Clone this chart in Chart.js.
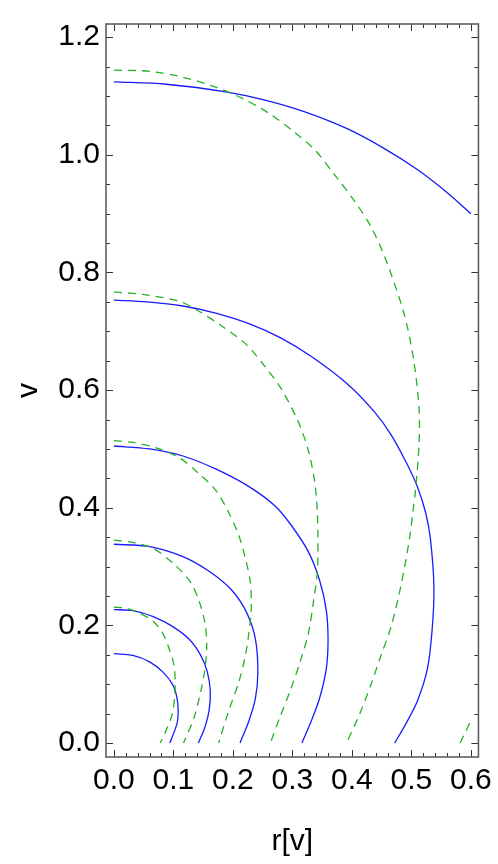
<!DOCTYPE html>
<html>
<head>
<meta charset="utf-8">
<script src="https://cdn.jsdelivr.net/npm/chart.js@4.4.0/dist/chart.umd.min.js"></script>
<style>
  html, body { margin: 0; padding: 0; background: #fff; }
  canvas { display: block; }
</style>
</head>
<body>
<canvas id="chart" width="498" height="864"></canvas>
<script>
'use strict';

// Data: [r, v] points
var solid1 = [[0, 0.152], [0.032, 0.149], [0.06, 0.138], [0.082, 0.121], [0.099, 0.099], [0.106, 0.077], [0.108, 0.055], [0.106, 0.033], [0.094, 0]];
var solid2 = [[0, 0.227], [0.032, 0.225], [0.066, 0.215], [0.099, 0.198], [0.127, 0.176], [0.146, 0.149], [0.157, 0.121], [0.162, 0.088], [0.160, 0.055], [0.153, 0.027], [0.142, 0]];
var solid3 = [[0, 0.338], [0.06, 0.334], [0.116, 0.317], [0.16, 0.292], [0.199, 0.259], [0.224, 0.220], [0.238, 0.176], [0.242, 0.121], [0.238, 0.077], [0.227, 0.038], [0.212, 0]];
var solid4 = [[0, 0.505], [0.06, 0.500], [0.116, 0.488], [0.171, 0.466], [0.227, 0.436], [0.271, 0.403], [0.299, 0.369], [0.327, 0.325], [0.346, 0.276], [0.357, 0.226], [0.360, 0.176], [0.357, 0.126], [0.346, 0.077], [0.332, 0.038], [0.316, 0]];
var solid5 = [[0, 0.753], [0.055, 0.750], [0.116, 0.743], [0.171, 0.731], [0.227, 0.713], [0.282, 0.688], [0.332, 0.657], [0.393, 0.610], [0.438, 0.563], [0.466, 0.524], [0.493, 0.474], [0.51, 0.436], [0.524, 0.392], [0.532, 0.348], [0.538, 0.265], [0.535, 0.193], [0.527, 0.126], [0.51, 0.071], [0.491, 0.033], [0.472, 0]];
var solid6 = [[0, 1.124], [0.088, 1.120], [0.188, 1.107], [0.254, 1.093], [0.321, 1.073], [0.393, 1.044], [0.454, 1.011], [0.51, 0.975], [0.56, 0.936], [0.6, 0.9]];

var dashed1 = [[0, 0.231], [0.021, 0.229], [0.043, 0.221], [0.066, 0.207], [0.082, 0.187], [0.093, 0.160], [0.101, 0.132], [0.103, 0.104], [0.102, 0.077], [0.098, 0.049], [0.088, 0.022], [0.078, 0]];
var dashed2 = [[0, 0.345], [0.032, 0.341], [0.066, 0.331], [0.099, 0.306], [0.127, 0.276], [0.143, 0.242], [0.153, 0.204], [0.156, 0.165], [0.153, 0.126], [0.146, 0.088], [0.135, 0.044], [0.117, 0]];
var dashed3 = [[0, 0.514], [0.032, 0.511], [0.071, 0.502], [0.11, 0.485], [0.143, 0.458], [0.171, 0.430], [0.193, 0.392], [0.21, 0.353], [0.221, 0.314], [0.229, 0.276], [0.231, 0.237], [0.229, 0.204], [0.221, 0.149], [0.21, 0.104], [0.193, 0.055], [0.176, 0]];
var dashed4 = [[0, 0.767], [0.054, 0.762], [0.11, 0.751], [0.138, 0.737], [0.177, 0.712], [0.221, 0.679], [0.254, 0.640], [0.282, 0.601], [0.31, 0.546], [0.327, 0.497], [0.338, 0.441], [0.342, 0.392], [0.343, 0.348], [0.342, 0.292], [0.335, 0.237], [0.327, 0.187], [0.313, 0.138], [0.296, 0.088], [0.279, 0.044], [0.263, 0]];
var dashed5 = [[0, 1.144], [0.06, 1.142], [0.116, 1.132], [0.171, 1.115], [0.216, 1.096], [0.26, 1.071], [0.304, 1.038], [0.338, 1.008], [0.371, 0.966], [0.404, 0.922], [0.432, 0.878], [0.457, 0.822], [0.488, 0.729], [0.504, 0.651], [0.513, 0.568], [0.513, 0.508], [0.507, 0.430], [0.503, 0.397], [0.497, 0.348], [0.482, 0.265], [0.466, 0.198], [0.449, 0.149], [0.432, 0.099], [0.413, 0.049], [0.391, 0]];
var dashed6 = [[0.582, 0], [0.591, 0.019], [0.6, 0.038]];

var solidCurves = [solid1, solid2, solid3, solid4, solid5, solid6];
var dashedCurves = [dashed1, dashed2, dashed3, dashed4, dashed5, dashed6];

// Ticks
var xTicks = [0, 0.1, 0.2, 0.3, 0.4, 0.5, 0.6];
var yTicks = [0, 0.2, 0.4, 0.6, 0.8, 1.0, 1.2];
var xMinorPerMajor = 5;
var yMinorPerMajor = 4;

var blue = '#1a1aff';
var green = '#25b025';
var fontFamily = "'Liberation Sans', Arial, sans-serif";

function toPoints(curve) {
	return curve.map(function (p) { return { x: p[0], y: p[1] }; });
}

function minorTicks(major, per, min, max) {
	var step = (major[1] - major[0]) / per;
	var out = [];
	for (var i = -per; i <= (major.length) * per; i++) {
		var v = major[0] + i * step;
		if (v >= min && v <= max && i % per !== 0) out.push(v);
	}
	return out;
}

var datasets = [];
dashedCurves.forEach(function (c) {
	datasets.push({
		data: toPoints(c),
		borderColor: green,
		borderWidth: 1.3,
		borderDash: [8, 6],
		showLine: true,
		pointRadius: 0,
		tension: 0.3,
		fill: false
	});
});
solidCurves.forEach(function (c) {
	datasets.push({
		data: toPoints(c),
		borderColor: blue,
		borderWidth: 1.3,
		showLine: true,
		pointRadius: 0,
		tension: 0.3,
		fill: false
	});
});

var X_MIN = -0.0133, X_MAX = 0.6128;
var Y_MIN = -0.0237, Y_MAX = 1.2224;

// Frame with inward ticks on all four sides, like the original
var frameTicks = {
	id: 'frameTicks',
	afterDatasetsDraw: function (chart) {
		var ctx = chart.ctx, a = chart.chartArea;
		var x = chart.scales.x, y = chart.scales.y;
		ctx.save();
		ctx.strokeStyle = '#333';
		ctx.lineWidth = 1;
		ctx.beginPath();
		function xTick(v, len) {
			var px = Math.round(x.getPixelForValue(v)) + 0.5;
			ctx.moveTo(px, a.bottom); ctx.lineTo(px, a.bottom - len);
			ctx.moveTo(px, a.top); ctx.lineTo(px, a.top + len);
		}
		function yTick(v, len) {
			var py = Math.round(y.getPixelForValue(v)) + 0.5;
			ctx.moveTo(a.left, py); ctx.lineTo(a.left + len, py);
			ctx.moveTo(a.right, py); ctx.lineTo(a.right - len, py);
		}
		xTicks.forEach(function (v) { xTick(v, 7); });
		minorTicks(xTicks, xMinorPerMajor, X_MIN, X_MAX).forEach(function (v) { xTick(v, 4); });
		yTicks.forEach(function (v) { yTick(v, 7); });
		minorTicks(yTicks, yMinorPerMajor, Y_MIN, Y_MAX).forEach(function (v) { yTick(v, 4); });
		ctx.stroke();
		ctx.strokeStyle = '#5e5e5e';
		ctx.lineWidth = 1.6;
		ctx.strokeRect(a.left, a.top, a.right - a.left, a.bottom - a.top);
		ctx.restore();
	}
};

var chart = new Chart(document.getElementById('chart'), {
	type: 'scatter',
	data: { datasets: datasets },
	options: {
		responsive: false,
		animation: false,
		layout: { padding: { top: 5, right: 16, left: 0, bottom: 0 } },
		plugins: {
			legend: { display: false },
			tooltip: { enabled: false }
		},
		scales: {
			x: {
				type: 'linear',
				min: X_MIN,
				max: X_MAX,
				afterBuildTicks: function (scale) {
					scale.ticks = xTicks.map(function (v) { return { value: v }; });
				},
				afterFit: function (scale) { scale.height = 107; },
				grid: { display: false, drawTicks: false },
				border: { display: false },
				ticks: {
					padding: 6,
					color: '#000',
					font: { family: fontFamily, size: 30 },
					callback: function (v) { return Number(v).toFixed(1); }
				},
				title: {
					display: true,
					text: 'r[v]',
					color: '#000',
					font: { family: fontFamily, size: 30 },
					padding: { top: 0, bottom: 4 }
				}
			},
			y: {
				type: 'linear',
				min: Y_MIN,
				max: Y_MAX,
				afterBuildTicks: function (scale) {
					scale.ticks = yTicks.map(function (v) { return { value: v }; });
				},
				afterFit: function (scale) { scale.width = 106; },
				grid: { display: false, drawTicks: false },
				border: { display: false },
				ticks: {
					padding: 6,
					color: '#000',
					font: { family: fontFamily, size: 30 },
					callback: function (v) { return Number(v).toFixed(1); }
				},
				title: {
					display: true,
					text: 'v',
					color: '#000',
					font: { family: fontFamily, size: 30 },
					padding: { top: 11, bottom: 0 }
				}
			}
		}
	},
	plugins: [frameTicks]
});
</script>
</body>
</html>
